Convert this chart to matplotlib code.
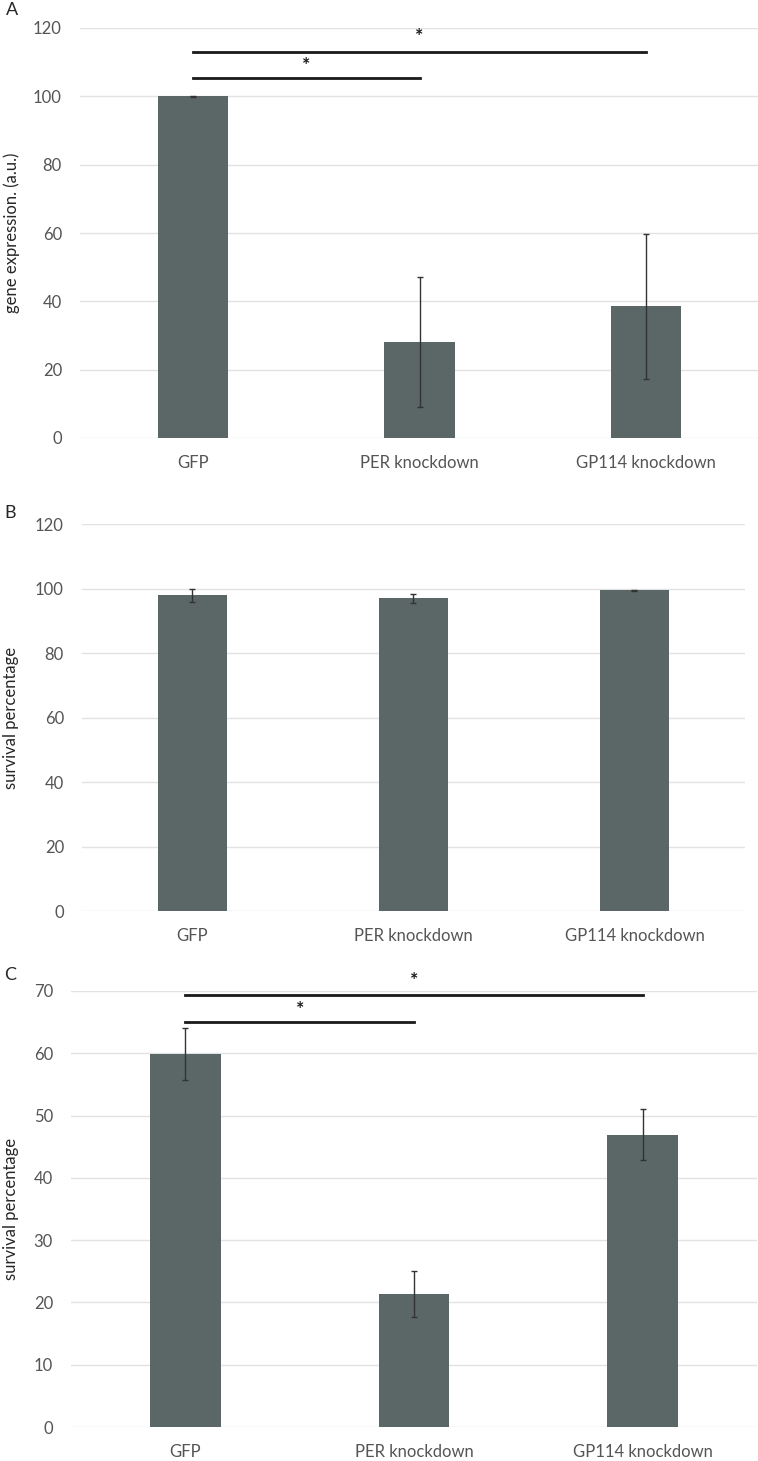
import numpy as np
import matplotlib.pyplot as plt

plt.rcParams['font.family'] = ['Lato', 'DejaVu Sans']

groups = ['GFP', 'PER knockdown', 'GP114 knockdown']

# A - gene expression
expr_mean = [100, 28, 38.5]
expr_err = [0.2, 19, 21.3]
# B - survival
surv_b_mean = [97.9, 96.9, 99.4]
surv_b_err = [2.0, 1.4, 0.2]
# C - survival
surv_c_mean = [59.9, 21.3, 46.9]
surv_c_err = [4.2, 3.7, 4.1]

# significance brackets: (from, to, line y, star y)
sig_a = [(0, 2, 113.1, 117.4), (0, 1, 105.4, 109.0)]
sig_c = [(0, 2, 69.4, 71.7), (0, 1, 65.1, 67.0)]

W, H = 758, 1461
fig = plt.figure(figsize=(W / 100, H / 100), dpi=100)

bar_col = '#5a6766'
txt_col = '#555555'


def box(x0, x1, top, bottom):
    return [x0 / W, 1 - bottom / H, (x1 - x0) / W, (bottom - top) / H]


def panel(rect, means, errs, ymax, step, ylabel, letter, letter_xy, sig=None):
    ax = fig.add_axes(rect)
    x = np.arange(len(groups))
    ax.bar(x, means, width=0.31, color=bar_col, zorder=2)
    ax.errorbar(x, means, yerr=errs, fmt='none', ecolor='#333333',
                elinewidth=1, capsize=2.5, capthick=1, zorder=3)
    ax.set_xlim(-0.5, 2.5)
    ax.set_ylim(0, ymax)
    ax.set_yticks(np.arange(0, ymax + 1, step))
    ax.set_xticks(x)
    ax.set_xticklabels(groups)
    ax.grid(axis='y', color='#e2e2e2', lw=1, zorder=0)
    for s in ax.spines.values():
        s.set_visible(False)
    ax.tick_params(length=0, labelsize=12, labelcolor=txt_col)
    ax.tick_params(axis='x', pad=12)
    ax.tick_params(axis='y', pad=13)
    if sig:
        for a, b, ly, sy in sig:
            ax.plot([a, b], [ly, ly], color='#1a1a1a', lw=2, clip_on=False, zorder=4)
            ax.text((a + b) / 2, sy, '*', ha='center', va='center',
                    fontsize=14, fontweight='bold', color='#1a1a1a', clip_on=False)
    pos = ax.get_position()
    fig.text(11.5 / W, pos.y0 + pos.height / 2, ylabel, rotation=90,
             ha='center', va='center', fontsize=12, color='#262626')
    fig.text(letter_xy[0] / W, 1 - letter_xy[1] / H, letter, ha='center',
             va='center', fontsize=13, color='#262626')
    return ax


panel(box(80, 759, 28, 438), expr_mean, expr_err, 120, 20,
      'gene expression. (a.u.)', 'A', (12, 10), sig_a)
panel(box(82, 745, 524, 911), surv_b_mean, surv_b_err, 120, 20,
      'survival percentage', 'B', (10, 513))
panel(box(71, 757, 991, 1427), surv_c_mean, surv_c_err, 70, 10,
      'survival percentage', 'C', (10, 975), sig_c)

fig.savefig('out.png', dpi=100, facecolor='white')
